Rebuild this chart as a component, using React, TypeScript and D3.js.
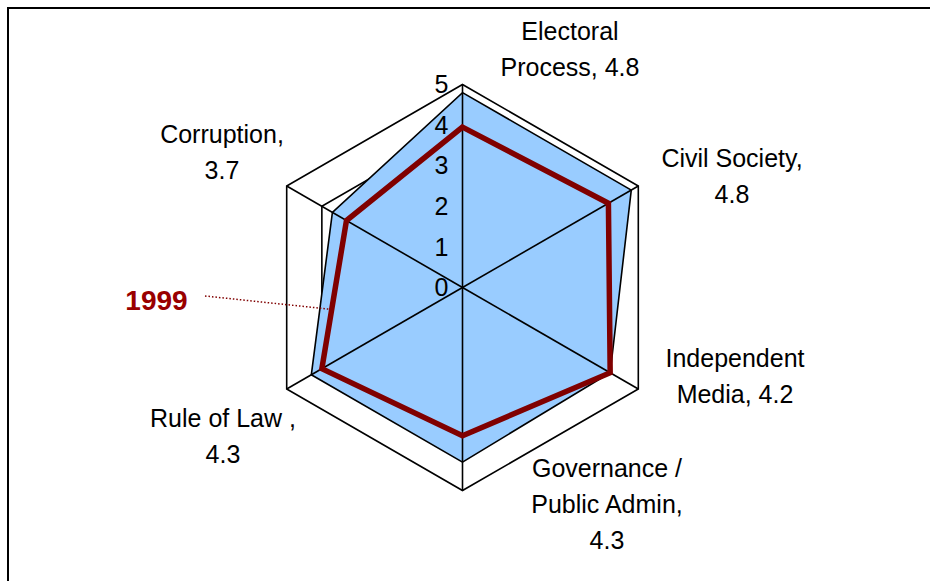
import React from "react";
import * as d3 from "d3";

// ---- data ----
const categories = [
  "Electoral Process",
  "Civil Society",
  "Independent Media",
  "Governance / Public Admin",
  "Rule of Law",
  "Corruption",
];
const labelLines = [
  ["Electoral", "Process, 4.8"],
  ["Civil Society,", "4.8"],
  ["Independent", "Media, 4.2"],
  ["Governance /", "Public Admin,", "4.3"],
  ["Rule of Law ,", "4.3"],
  ["Corruption,", "3.7"],
];
const latestValues = [4.8, 4.8, 4.2, 4.3, 4.3, 3.7];
const midValues = [4.0, 4.0, 4.0, 4.0, 4.0, 4.0];
const values1999 = [3.95, 4.15, 4.2, 3.65, 4.0, 3.3];
const tickValues = [0, 1, 2, 3, 4, 5];
const seriesLabel = "1999";

// ---- layout ----
const W = 930;
const H = 581;
const cx = 462.5;
const cy = 287.5;
const R = 203;
const labelPos: [number, number][] = [
  [570, 40],
  [732, 167],
  [735, 367],
  [607, 477],
  [223, 427],
  [222, 143],
];
const lineGap = 36;

export default function App() {
  const r = d3.scaleLinear().domain([0, 5]).range([0, R]);
  const angle = d3
    .scaleLinear()
    .domain([0, categories.length])
    .range([0, 2 * Math.PI]);

  const radial = d3
    .lineRadial<number>()
    .angle((_, i) => angle(i))
    .radius((v) => r(v))
    .curve(d3.curveLinearClosed);

  const outer = radial(categories.map(() => 5)) || "";
  const pt = (v: number, i: number): [number, number] => {
    const a = angle(i);
    return [cx + r(v) * Math.sin(a), cy - r(v) * Math.cos(a)];
  };

  const font = "'Liberation Sans', Arial, sans-serif";
  // leader target on 1999 line between Corruption and Rule of Law
  const p4 = pt(values1999[4], 4);
  const p5 = pt(values1999[5], 5);
  const t = 0.6;
  const leadEnd: [number, number] = [
    p5[0] + (p4[0] - p5[0]) * t,
    p5[1] + (p4[1] - p5[1]) * t,
  ];

  return (
    <div style={{ position: "fixed", left: 0, top: 0 }}>
      <svg width={W} height={H} style={{ display: "block", background: "#fff" }}>
        <rect x={8} y={8} width={1000} height={1000} fill="#fff" stroke="#000" strokeWidth={2} />
        <g transform={`translate(${cx},${cy})`}>
          <path d={outer} fill="#fff" stroke="#000" strokeWidth={1.6} />
          <path d={radial(midValues) || ""} fill="#fff" stroke="#000" strokeWidth={1.6} />
          <path d={radial(latestValues) || ""} fill="#99CCFF" stroke="#000" strokeWidth={1.6} />
          {categories.map((c, i) => {
            const a = angle(i);
            return (
              <line
                key={c}
                x1={0}
                y1={0}
                x2={r(5) * Math.sin(a)}
                y2={-r(5) * Math.cos(a)}
                stroke="#000"
                strokeWidth={1.6}
              />
            );
          })}
          <path
            d={radial(values1999) || ""}
            fill="none"
            stroke="#800000"
            strokeWidth={5.5}
            strokeLinejoin="miter"
          />
        </g>
        {tickValues.map((v) => (
          <text
            key={v}
            x={cx - 14}
            y={cy - r(v)}
            dy="0.35em"
            textAnchor="end"
            fontFamily={font}
            fontSize={25}
            fill="#000"
          >
            {v}
          </text>
        ))}
        {labelLines.map((lines, i) => (
          <text
            key={categories[i]}
            x={labelPos[i][0]}
            y={labelPos[i][1]}
            textAnchor="middle"
            fontFamily={font}
            fontSize={25}
            fill="#000"
          >
            {lines.map((ln, j) => (
              <tspan key={j} x={labelPos[i][0]} y={labelPos[i][1] + j * lineGap}>
                {ln}
              </tspan>
            ))}
          </text>
        ))}
        <line
          x1={205}
          y1={296}
          x2={leadEnd[0]}
          y2={leadEnd[1]}
          stroke="#800000"
          strokeWidth={1.5}
          strokeDasharray="1.5,2"
        />
        <text
          x={156.5}
          y={310}
          textAnchor="middle"
          fontFamily={font}
          fontWeight="bold"
          fontSize={28}
          fill="#990000"
        >
          {seriesLabel}
        </text>
      </svg>
    </div>
  );
}
